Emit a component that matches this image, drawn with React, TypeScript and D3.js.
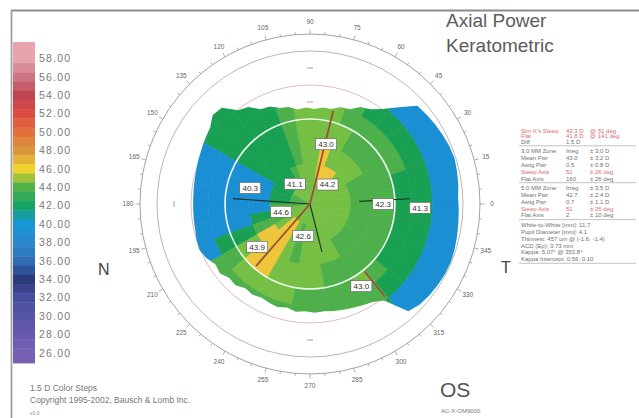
import React from "react";
import * as d3 from "d3";

const WIDTH = 639;
const HEIGHT = 418;
const FONT = "'Liberation Sans', Arial, Helvetica, sans-serif";

// Colour legend (diopters)
const LEGEND_VALUES = [58, 56, 54, 52, 50, 48, 46, 44, 42, 40, 38, 36, 34, 32, 30, 28, 26];
const LEGEND_COLORS = [
  "#e9a3ad", "#cf7482", "#bf4553", "#dc4b3f", "#e0713f", "#d9963f", "#f0d22c", "#4fb24a",
  "#17a266", "#1797d6", "#2b86cc", "#2f6db5", "#2b3a7a", "#474d9d", "#5755a7", "#6759b0", "#775fb5",
];

// Colour bands used on the power map
const POWER_BANDS = [41, 42, 43, 44];
const POWER_COLORS = ["#1b8fd3", "#19a052", "#4db04b", "#76bf45", "#efc63b"];

// Polar grid: ring boundaries (mm from the vertex) and axial power per 10° sector
const RING_EDGES_MM = [0, 0.6, 1.2, 1.8, 2.5, 3.0, 3.6, 4.7];
const SECTOR_POWER = [
  [43.5, 43.2, 42.6, 42.3, 41.6, 41.4, 40.6],
  [43.5, 43.2, 42.6, 42.4, 41.7, 41.4, 40.5],
  [43.6, 43.3, 42.7, 42.5, 42.1, 41.5, 40.6],
  [43.6, 43.4, 43.1, 42.6, 42.2, 41.6, 40.7],
  [43.7, 43.5, 43.2, 42.7, 42.3, 41.6, 40.7],
  [43.8, 44.2, 43.3, 42.8, 42.4, 41.7, 41.2],
  [43.9, 44.3, 43.6, 43.2, 42.6, 42.2, 42.0],
  [43.9, 44.5, 44.2, 43.0, 43.1, 42.6, 42.4],
  [43.8, 43.9, 43.6, 43.3, 43.1, 43.0, 43.0],
  [43.7, 43.6, 43.4, 43.2, 43.0, 42.6, 42.5],
  [43.6, 43.3, 42.8, 42.6, 42.4, 41.8, 41.7],
  [43.4, 42.7, 41.8, 41.7, 41.6, 41.5, 41.5],
  [43.3, 41.1, 41.7, 41.6, 41.5, 41.4, 41.4],
  [43.1, 41.8, 41.6, 41.5, 41.4, 41.3, 41.3],
  [43.0, 41.6, 41.5, 41.4, 41.3, 41.2, 41.2],
  [42.6, 41.2, 40.8, 40.6, 40.5, 40.4, 40.4],
  [42.5, 41.1, 40.6, 40.3, 40.3, 40.2, 40.2],
  [42.5, 41.3, 40.6, 40.3, 40.3, 40.2, 40.2],
  [42.7, 42.2, 40.8, 40.5, 40.4, 40.3, 40.3],
  [43.1, 44.6, 41.6, 40.8, 40.6, 40.5, 40.5],
  [43.3, 42.7, 42.3, 41.8, 41.4, 40.8, 40.7],
  [43.5, 43.6, 44.4, 43.9, 42.8, 42.5, 42.4],
  [43.7, 44.5, 44.8, 44.6, 43.3, 42.7, 42.6],
  [43.8, 44.6, 44.7, 44.5, 43.4, 42.8, 42.7],
  [43.7, 43.9, 43.8, 43.5, 43.2, 42.8, 42.7],
  [43.5, 42.6, 42.6, 43.1, 43.0, 42.7, 42.6],
  [43.4, 43.2, 43.1, 43.0, 42.8, 42.6, 42.5],
  [43.4, 43.3, 43.2, 43.1, 42.8, 42.6, 42.5],
  [43.4, 43.3, 43.1, 42.9, 42.7, 42.5, 42.4],
  [43.4, 43.3, 43.1, 42.8, 42.6, 42.5, 42.4],
  [43.4, 43.2, 42.9, 42.7, 43.0, 42.4, 41.8],
  [43.4, 43.2, 42.8, 42.6, 42.5, 41.9, 40.9],
  [43.4, 43.2, 42.7, 42.5, 41.9, 41.6, 40.8],
  [43.4, 43.2, 42.7, 42.4, 41.8, 41.5, 40.7],
  [43.5, 43.2, 42.6, 42.4, 41.7, 41.4, 40.6],
  [43.5, 43.2, 42.6, 42.3, 41.6, 41.3, 40.6],
];

// Edge of the measured area (mm) per 5° step, starting at 0°
const DATA_EDGE_MM = [
  4.36, 4.4, 4.43, 4.46, 4.44, 4.4, 4.36, 4.32, 4.28, 3.86, 3.52, 3.3,
  3.22, 3.02, 2.98, 2.86, 2.86, 2.8, 2.84, 2.8, 2.92, 2.96, 3.1, 3.14,
  3.38, 3.48, 3.84, 3.88, 3.7, 3.64, 3.58, 3.54, 3.5, 3.47, 3.45, 3.44,
  3.44, 3.45, 3.46, 3.5, 3.52, 3.44, 3.3, 3.34, 3.22, 3.24, 3.12, 3.16,
  3.1, 3.14, 3.18, 3.12, 3.2, 3.16, 3.2, 3.18, 3.22, 3.26, 3.3, 3.36,
  3.42, 3.58, 4.28, 4.38, 4.42, 4.45, 4.47, 4.48, 4.46, 4.43, 4.4, 4.38,
];

// Steep and flat semi-meridians (degrees, extent in mm)
const STEEP_ANGLES = [76, 229, 309];
const STEEP_FROM = [0, 0, 2.55];
const STEEP_TO = [2.82, 2.42, 3.5];
const FLAT_ANGLES = [176, 284, 3];
const FLAT_FROM = [0, 0, 1.45];
const FLAT_TO = [2.27, 1.45, 2.95];

// Zone readings shown in boxes
const ZONE_VALUES = [43.0, 44.2, 41.1, 40.3, 42.3, 41.3, 44.6, 42.6, 43.9, 43.0];
const ZONE_ANGLES = [75, 48, 127, 165, 0, 358, 195, 258, 219, 302];
const ZONE_RADII = [1.82, 0.77, 0.74, 1.82, 2.15, 3.24, 0.88, 0.96, 2.0, 2.85];

// Meridian scale labels
const COMPASS_LABELS = [0, 15, 30, 45, 60, 75, 90, 105, 120, 135, 150, 165, 180, 195, 210, 225, 240, 255, 270, 285, 300, 315, 330, 345];

// Summary table
const TABLE_GROUPS = [
  [
    ["Sim K's Steep", "43.3 D", "@ 51 deg", "red"],
    ["Flat", "41.8 D", "@ 141 deg", "red"],
    ["Diff", "1.5 D", "", "gray"],
  ],
  [
    ["3.0 MM Zone", "Irreg", "\u00b1 3.0 D", "gray"],
    ["Mean Pwr", "43.0", "\u00b1 3.2 D", "gray"],
    ["Astig Pwr", "0.5", "\u00b1 0.8 D", "gray"],
    ["Steep Axis", "51", "\u00b1 26 deg", "red"],
    ["Flat Axis", "160", "\u00b1 26 deg", "gray"],
  ],
  [
    ["5.0 MM Zone", "Irreg", "\u00b1 3.5 D", "gray"],
    ["Mean Pwr", "42.7", "\u00b1 2.4 D", "gray"],
    ["Astig Pwr", "0.7", "\u00b1 1.1 D", "gray"],
    ["Steep Axis", "51", "\u00b1 26 deg", "red"],
    ["Flat Axis", "2", "\u00b1 10 deg", "gray"],
  ],
  [
    ["White-to-White [mm]: 11.7", "", "", "gray"],
    ["Pupil Diameter [mm]: 4.1", "", "", "gray"],
    ["Thinnest: 457 um @ (-1.6, -1.4)", "", "", "gray"],
    ["ACD (Ep): 3.73 mm", "", "", "gray"],
    ["Kappa: 5.07\u00b0 @ 353.8\u00b0", "", "", "gray"],
    ["Kappa Intercept: 0.56, 0.10", "", "", "gray"],
  ],
];

const CX = 310;
const CY = 204;

export default function App() {
  const rScale = d3.scaleLinear().domain([0, 5]).range([0, 170]);
  const powerColor = d3.scaleThreshold<number, string>().domain(POWER_BANDS).range(POWER_COLORS);
  const legendColor = d3
    .scaleLinear<string>()
    .domain(LEGEND_VALUES)
    .range(LEGEND_COLORS)
    .interpolate(d3.interpolateRgb)
    .clamp(true);
  const legendY = d3.scaleLinear().domain([58, 26]).range([58.5, 353]);
  const arc = d3.arc();
  const rad = (deg: number) => (deg * Math.PI) / 180;
  const px = (deg: number, mm: number) => CX + rScale(mm) * Math.cos(rad(deg));
  const py = (deg: number, mm: number) => CY - rScale(mm) * Math.sin(rad(deg));
  const pxr = (deg: number, r: number) => CX + r * Math.cos(rad(deg));
  const pyr = (deg: number, r: number) => CY - r * Math.sin(rad(deg));

  // outline of the measured area (radial line through the edge samples)
  const edgeStep = 360 / DATA_EDGE_MM.length;
  const edgePath = d3
    .lineRadial<number>()
    .angle((_, i) => rad(90 - (i * edgeStep + edgeStep / 2)))
    .radius((d) => rScale(d))
    .curve(d3.curveLinearClosed)(DATA_EDGE_MM) as string;

  // power map cells
  const cells: React.ReactNode[] = [];
  const sectorStep = 360 / SECTOR_POWER.length;
  SECTOR_POWER.forEach((powers, k) => {
    const a0 = k * sectorStep;
    const a1 = a0 + sectorStep;
    powers.forEach((p, j) => {
      const d = arc({
        innerRadius: rScale(RING_EDGES_MM[j]),
        outerRadius: rScale(RING_EDGES_MM[j + 1]),
        startAngle: rad(90 - a1),
        endAngle: rad(90 - a0),
      } as any) as string;
      const c = powerColor(p);
      cells.push(<path key={`c${k}-${j}`} d={d} fill={c} stroke={c} strokeWidth={0.6} />);
    });
  });

  // legend bands (1 D each)
  const legendBands: React.ReactNode[] = [];
  for (let v = 60; v >= 24; v--) {
    const y0 = Math.max(42, legendY(v + 0.5));
    const y1 = Math.min(363, legendY(v - 0.5));
    if (y1 <= y0) continue;
    legendBands.push(
      <rect key={`lb${v}`} x={13} y={y0} width={22} height={y1 - y0 + 0.4} fill={legendColor(v)} />
    );
  }

  // compass ticks
  const ringR = rScale(5);
  const ticks: React.ReactNode[] = [];
  for (let a = 0; a < 360; a += 5) {
    const len = a % 15 === 0 ? 4.5 : 2.5;
    ticks.push(
      <line
        key={`t${a}`}
        x1={pxr(a, ringR)}
        y1={pyr(a, ringR)}
        x2={pxr(a, ringR + len)}
        y2={pyr(a, ringR + len)}
        stroke="#8a8a8a"
        strokeWidth={0.7}
      />
    );
  }

  // table rows
  const tableRows: React.ReactNode[] = [];
  let ty = 131;
  TABLE_GROUPS.forEach((group, gi) => {
    const step = gi === 0 ? 5.3 : 6.8;
    group.forEach((row, ri) => {
      const fill = row[3] === "red" ? "#d86b6b" : "#707070";
      const base = ty + 2;
      tableRows.push(
        <g key={`r${gi}-${ri}`} fontSize={6} fill={fill} fontFamily={FONT}>
          <text x={521} y={base}>{row[0]}</text>
          {row[1] && <text x={566} y={base}>{row[1]}</text>}
          {row[2] && <text x={590} y={base}>{row[2]}</text>}
        </g>
      );
      ty += step;
    });
    const lineY = ty - step + 4.2;
    tableRows.push(
      <line key={`sep${gi}`} x1={519} x2={636} y1={lineY} y2={lineY} stroke="#9a9a9a" strokeWidth={0.6} />
    );
    ty = lineY + 5.5;
  });

  return (
    <svg
      width={WIDTH}
      height={HEIGHT}
      viewBox={`0 0 ${WIDTH} ${HEIGHT}`}
      style={{ position: "absolute", left: 0, top: 0, background: "#fff" }}
      fontFamily={FONT}
    >
      <defs>
        <clipPath id="measured-area">
          <path d={edgePath} />
        </clipPath>
      </defs>
      <rect x={0} y={0} width={WIDTH} height={HEIGHT} fill="#fff" />

      {/* frame */}
      <line x1={11} x2={WIDTH} y1={10.5} y2={10.5} stroke="#8c8c8c" strokeWidth={2} />
      <line x1={11.5} x2={11.5} y1={10} y2={HEIGHT} stroke="#a0a0a0" strokeWidth={1.8} />

      {/* legend */}
      {legendBands}
      {LEGEND_VALUES.map((v) => (
        <text
          key={`ll${v}`}
          x={39}
          y={legendY(v)}
          dy="0.35em"
          fontSize={10.5}
          fill="#7a7a7a"
          textLength={31}
          lengthAdjust="spacing"
        >
          {v.toFixed(2)}
        </text>
      ))}

      {/* reference circles */}
      <circle cx={CX} cy={CY} r={ringR} fill="none" stroke="#8a8a8a" strokeWidth={0.8} />
      <circle cx={CX} cy={CY} r={rScale(4.5)} fill="none" stroke="#a5a5a5" strokeWidth={0.8} />
      <circle cx={CX} cy={CY} r={rScale(3.5)} fill="none" stroke="#d9a9a9" strokeWidth={0.8} />
      {ticks}
      {[90, 270, 180, 0].map((a) => (
        <g key={`dash${a}`}>
          <line
            x1={pxr(a, rScale(4)) + (a % 180 === 0 ? 0 : -3)}
            x2={pxr(a, rScale(4)) + (a % 180 === 0 ? 0 : 3)}
            y1={pyr(a, rScale(4)) + (a % 180 === 0 ? -3 : 0)}
            y2={pyr(a, rScale(4)) + (a % 180 === 0 ? 3 : 0)}
            stroke="#888"
            strokeWidth={0.8}
          />
          <line
            x1={pxr(a, rScale(3)) + (a % 180 === 0 ? 0 : -3)}
            x2={pxr(a, rScale(3)) + (a % 180 === 0 ? 0 : 3)}
            y1={pyr(a, rScale(3)) + (a % 180 === 0 ? -3 : 0)}
            y2={pyr(a, rScale(3)) + (a % 180 === 0 ? 3 : 0)}
            stroke="#d77"
            strokeWidth={0.8}
          />
        </g>
      ))}
      {COMPASS_LABELS.map((a) => (
        <text
          key={`cl${a}`}
          x={pxr(a, ringR + 12)}
          y={pyr(a, ringR + 12)}
          dy="0.35em"
          textAnchor="middle"
          fontSize={6.5}
          fill="#666"
        >
          {a}
        </text>
      ))}

      {/* power map */}
      <g transform={`translate(${CX},${CY})`}>
        <g clipPath="url(#measured-area)">{cells}</g>
      </g>

      {/* 5 mm zone circle */}
      <circle cx={CX} cy={CY} r={rScale(2.5)} fill="none" stroke="#effff2" strokeWidth={1.6} />

      {/* meridians */}
      {FLAT_ANGLES.map((a, i) => (
        <line
          key={`fm${i}`}
          x1={px(a, FLAT_FROM[i])}
          y1={py(a, FLAT_FROM[i])}
          x2={px(a, FLAT_TO[i])}
          y2={py(a, FLAT_TO[i])}
          stroke="#1c3326"
          strokeWidth={1.1}
        />
      ))}
      {STEEP_ANGLES.map((a, i) => (
        <line
          key={`sm${i}`}
          x1={px(a, STEEP_FROM[i])}
          y1={py(a, STEEP_FROM[i])}
          x2={px(a, STEEP_TO[i])}
          y2={py(a, STEEP_TO[i])}
          stroke="#9c5130"
          strokeWidth={1.8}
        />
      ))}

      {/* zone readings */}
      {ZONE_VALUES.map((v, i) => {
        const x = px(ZONE_ANGLES[i], ZONE_RADII[i]);
        const y = py(ZONE_ANGLES[i], ZONE_RADII[i]);
        return (
          <g key={`zv${i}`}>
            <rect x={x - 10.5} y={y - 5.5} width={21} height={11} fill="#fff" stroke="#5a5a5a" strokeWidth={0.6} />
            <text x={x} y={y} dy="0.35em" textAnchor="middle" fontSize={8} fill="#333">
              {v.toFixed(1)}
            </text>
          </g>
        );
      })}

      {/* orientation */}
      <text x={98} y={275} fontSize={16} fill="#444">N</text>
      <text x={501} y={273} fontSize={16} fill="#444">T</text>

      {/* titles */}
      <text x={446} y={27} fontSize={19} fill="#5c5c5c">Axial Power</text>
      <text x={446} y={52} fontSize={19} fill="#5c5c5c">Keratometric</text>

      {/* summary table */}
      {tableRows}

      {/* footer */}
      <text x={30} y={391} fontSize={8.5} fill="#777">1.5 D Color Steps</text>
      <text x={30} y={403} fontSize={8.5} fill="#777">Copyright 1995-2002, Bausch &amp; Lomb Inc.</text>
      <text x={30} y={415} fontSize={5} fill="#888">v3.0</text>
      <text x={440} y={397} fontSize={21} fill="#555">OS</text>
      <text x={441} y={413} fontSize={6} fill="#777">AC-X-OM9000</text>
    </svg>
  );
}
